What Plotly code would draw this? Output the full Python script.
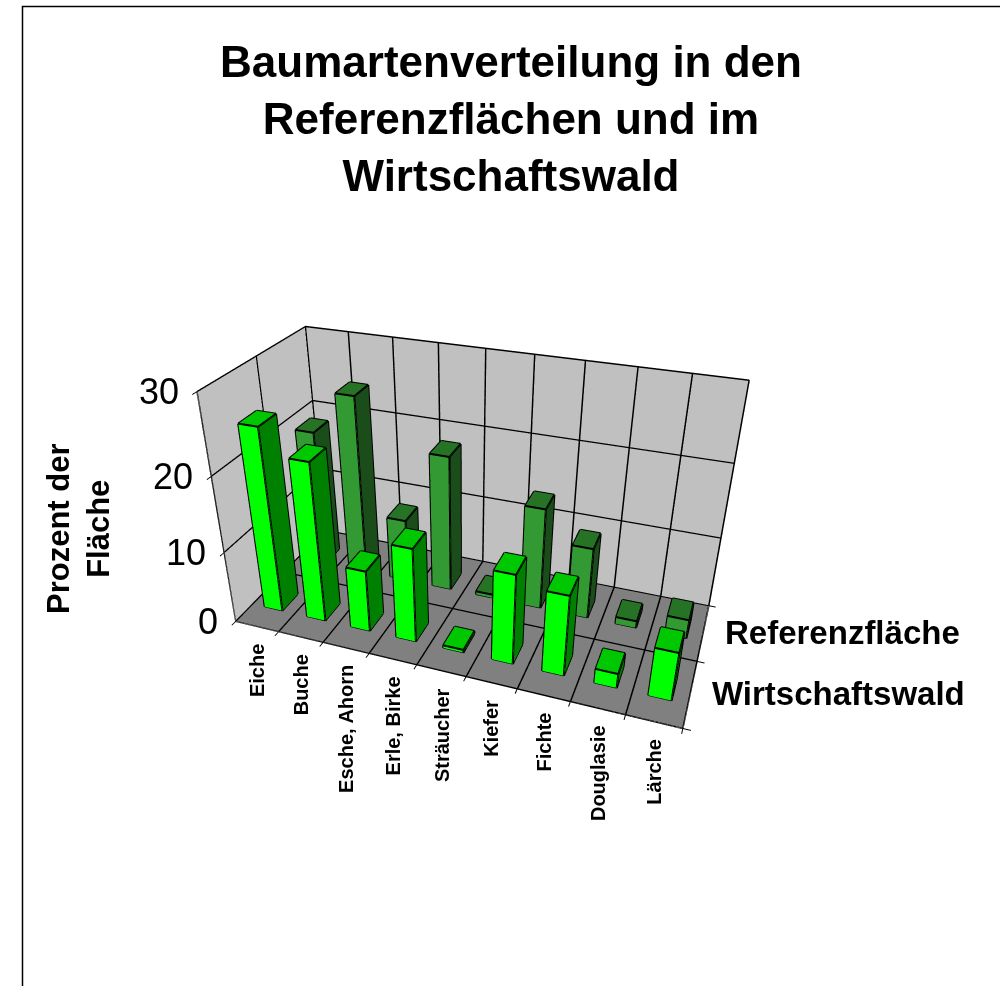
import numpy as np
import plotly.graph_objects as go

categories = ["Eiche", "Buche", "Esche, Ahorn", "Erle, Birke", "Sträucher", "Kiefer", "Fichte", "Douglasie", "Lärche"]
series_names = ["Wirtschaftswald", "Referenzfläche"]
wirtschaftswald = [25, 21.7, 8.6, 13, 0.4, 12.3, 11, 2, 6.6]
referenzflaeche = [19.3, 25, 9, 19, 0.5, 14.2, 10, 1, 2.7]
z_ticks = [0, 10, 20, 30]

eye = dict(x=1.0601, y=-3.0597, z=1.8250)
center = dict(x=0.0381, y=-0.2619, z=0.0242)
ay, az = 0.8591, 1.1066
f, cx, cy = 871.54, 463.56, 535.13
H = 2*f*np.tan(np.pi/8); W = 2*min(cx, 1000-cx)
dom_x = [(cx-W/2)/1000, (cx+W/2)/1000]
dom_y = [max(0, 1-(cy+H/2)/986), min(1, 1-(cy-H/2)/986)]

fig = go.Figure()
BW = 0.42; BD = 0.33
def bar_mesh(i, row, h, cf, ct, cs):
    x0, x1 = i+.5-BW/2, i+.5+BW/2; y0, y1 = row+.5-BD/2, row+.5+BD/2
    X = [x0,x1,x1,x0,x0,x1,x1,x0]; Y = [y0,y0,y1,y1,y0,y0,y1,y1]; Z = [0,0,0,0,h,h,h,h]
    I = [0,0, 1,1, 4,4, 3,3, 0,0, 0,0]
    J = [1,5, 2,6, 5,6, 2,6, 3,7, 1,2]
    K = [5,4, 6,5, 6,7, 6,7, 7,4, 2,3]
    fc = [cf,cf,cs,cs,ct,ct,cs,cs,cs,cs,cf,cf]
    fig.add_trace(go.Mesh3d(x=X, y=Y, z=Z, i=I, j=J, k=K, facecolor=fc, flatshading=True,
        lighting=dict(ambient=1, diffuse=0, specular=0, fresnel=0), hoverinfo="skip", showscale=False))
    ex = []; ey = []; ez = []
    for a, b in [(0,1),(1,2),(2,3),(3,0),(4,5),(5,6),(6,7),(7,4),(0,4),(1,5),(2,6),(3,7)]:
        ex += [X[a],X[b],None]; ey += [Y[a],Y[b],None]; ez += [Z[a],Z[b],None]
    fig.add_trace(go.Scatter3d(x=ex, y=ey, z=ez, mode="lines", line=dict(color="black", width=4), hoverinfo="skip", showlegend=False))
for i, v in enumerate(referenzflaeche): bar_mesh(i, 1, v, "#339933", "#267326", "#1a4d1a")
for i, v in enumerate(wirtschaftswald): bar_mesh(i, 0, v, "#00ff00", "#00c800", "#008000")

FONT = "Liberation Sans"
ann = []
for i, c in enumerate(categories):
    ann.append(dict(x=i+.5, y=0, z=0, text=f"<b>{c}</b>", showarrow=False, textangle=-90, yanchor="top", yshift=-15, font=dict(family=FONT, size=20, color="black")))
for v in z_ticks:
    ann.append(dict(x=0, y=0, z=v, text=str(v), showarrow=False, xanchor="right", xshift=-16, font=dict(family=FONT, size=36, color="black")))
for k, name in enumerate(series_names):
    ann.append(dict(x=9, y=k+.5, z=0, text=f"<b>{name}</b>", showarrow=False, xanchor="left", xshift=20, font=dict(family=FONT, size=33, color="black")))
ax_common = dict(showspikes=False, zeroline=False, showline=True, linecolor="#a0a0a0", showgrid=True, gridcolor="black", gridwidth=3,
    showbackground=True, backgroundcolor="#c0c0c0", ticks="outside", ticklen=6, tickcolor="black", tickwidth=2, showticklabels=False, title=dict(text=""), tickmode="linear")
fig.update_layout(width=1000, height=986, margin=dict(l=0, r=0, t=0, b=0), paper_bgcolor="white", showlegend=False,
    title=dict(text="<b>Baumartenverteilung in den<br>Referenzflächen und im<br>Wirtschaftswald</b>", x=.511, xanchor="center", y=.922, yanchor="top", font=dict(family=FONT, size=44, color="black")),
    scene=dict(domain=dict(x=dom_x, y=dom_y), aspectmode="manual", aspectratio=dict(x=2, y=ay, z=az),
        camera=dict(eye=eye, center=center, up=dict(x=0, y=0, z=1), projection=dict(type="perspective")),
        xaxis=dict(ax_common, range=[0,9], tick0=0, dtick=1),
        yaxis=dict(ax_common, range=[0,2], tick0=0, dtick=1),
        zaxis=dict(ax_common, range=[0,30], tick0=0, dtick=10, backgroundcolor="#808080"),
        annotations=ann),
    annotations=[dict(x=.078, y=1-529/986, xref="paper", yref="paper", xanchor="center", yanchor="middle", text="<b>Prozent der<br>Fläche</b>", textangle=-90, showarrow=False, font=dict(family=FONT, size=31, color="black"))],
    shapes=[dict(type="rect", xref="paper", yref="paper", x0=22.5/1000, x1=1.01, y0=-.01, y1=1-6.5/986, line=dict(color="black", width=1.5))])
fig.write_html("out.html", config=dict(displayModeBar=False), post_script="document.body.style.margin='0';")
